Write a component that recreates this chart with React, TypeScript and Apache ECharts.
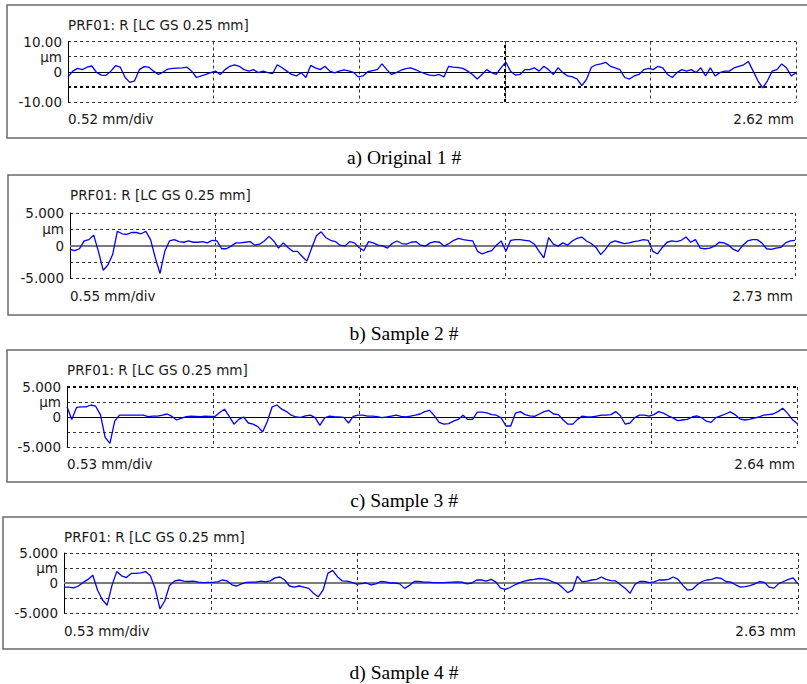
import { useEffect, useRef } from "react";
import * as echarts from "echarts";

// Profile values (µm), sampled evenly along each trace (5 divisions)
const profileA = [
  -1.7, 0.2, 1.1, 0.7, 1.5, 1.9, -0.2, -1.1, -1.2, 0.2,
  2.0, 1.5, -1.9, -3.5, -3.0, 0.7, 1.7, 1.5, 0.2, -0.9,
  -0.1, 0.9, 1.1, 1.2, 1.3, 1.5, 0.2, -1.9, -1.4, -0.9,
  -0.3, 0.2, -0.9, 0.7, 1.8, 2.3, 1.8, 0.7, 0.2, 0.7,
  -0.3, 0.2, -0.3, -0.6, 2.3, 1.3, 0.2, -0.9, -1.4, -0.3,
  -1.9, 2.1, 1.3, 0.7, 1.8, 0.2, -0.4, 0.2, 0.6, 0.3,
  -0.2, -1.7, -1.4, 0, 0.4, 0.7, 2.6, 0.7, -0.9, -0.3,
  0.5, 1.0, 1.3, 0.7, 0, -0.6, -1.1, -1.3, -0.9, -1.7,
  1.8, 1.5, 1.4, 1.1, 0.2, -0.9, -2.4, -0.9, 0.7, -0.3,
  -0.9, 1.3, 3.2, 0.2, -1.1, -0.9, 0.7, 0.7, 1.3, 0.2,
  1.8, 0.7, -0.9, 1.3, -0.3, -1.4, -1.7, -2.4, -4.6, -2.4,
  1.5, 2.3, 2.6, 3.1, 1.8, 1.3, 0.7, -1.9, -2.4, -1.4,
  -0.9, 0.7, 1.1, 0.7, 1.8, 1.3, -0.9, -1.9, -0.3, 0.7,
  0.2, 0.7, -0.3, 1.3, -1.4, 1.3, -1.4, -0.3, 0.2, 0.2,
  1.3, 1.8, 2.3, 3.4, 0.2, -3.0, -5.3, -3.0, 0.2, 0.7,
  2.6, 1.3, -1.4, -0.3,
];
const profileB = [
  -0.6, -0.8, -0.5, 0.7, 0.9, 1.6, -0.9, -3.8, -3.0, -1.4,
  2.2, 1.8, 1.7, 2.0, 2.0, 1.8, 2.2, 0.9, -1.9, -4.3,
  -0.9, 0.7, 0.9, 0.6, 0.5, 0.7, 0.5, 0.5, 0.6, 0.4,
  0.8, 0.7, -0.5, -0.5, -0.1, 0.4, 0.4, 0.5, 0.6, 0.05,
  0.2, 0.7, 1.4, 0.7, -0.4, 0.4, -0.3, -0.9, -0.9, -1.7,
  -2.4, -0.4, 1.5, 2.1, 1.2, 0.8, 0.6, 0.05, -0.1, 0.6,
  0.4, -0.3, -0.8, 0.6, 0.4, 0.05, -0.05, -0.4, 0.3, 0.7,
  0.3, 0.2, 0.5, 0.6, 0.05, -0.1, 0.4, 0.6, 0.5, -0.1,
  0.3, 0.8, 1.1, 0.9, 0.8, 0.7, -0.9, -1.3, -1.0, -0.8,
  0.05, 0.7, -0.9, 0.8, 0.9, 0.9, 0.8, 0.7, 0.2, -0.9,
  -1.9, 1.2, 0.2, -0.1, 0.4, 0.05, 0.7, 1.1, 1.3, 0.7,
  0.3, -0.3, -1.4, -0.6, 0.4, 0.7, 0.5, 0.3, 0.4, 0.6,
  0.7, 0.9, 0.8, -0.9, -1.3, -0.3, 0.5, 0.7, 0.6, 0.8,
  1.3, 0.5, 0.9, -0.4, -0.5, -0.4, -0.1, 0.5, 0.4, 0.05,
  -0.6, -0.9, 0.05, 0.7, 0.9, 0.9, 0.4, -0.5, -0.6, -0.4,
  -0.3, 0.4, 0.7, 0.8,
];
const profileC = [
  1.7, -0.4, 1.6, 1.7, 1.7, 2.0, 1.8, 0.4, -3.4, -4.4,
  -0.7, 0.3, 0.3, 0.3, 0.3, 0.3, 0.3, 0.05, 0.15, 0.15,
  0.3, 0.5, 0.1, -0.5, -0.2, 0.05, 0.15, 0.1, 0.05, 0.15,
  0.1, 0.1, 0.75, 1.3, 0.1, -1.2, -0.4, 0, -1.0, -1.2,
  -1.6, -2.5, -0.7, 1.7, 2.0, 1.3, 0.9, 0.3, 0, -0.05,
  0.2, 0.3, -0.1, -1.4, -0.15, 0.15, 0.05, 0, -0.05, -1.0,
  0.1, 0.3, 0.3, 0.15, 0.15, 0.05, -0.1, 0, 0.15, 0.3,
  0.1, 0, 0.15, 0.3, 0.5, 0.9, 1.1, 0.2, -0.9, -1.2,
  -1.1, -0.7, -0.4, 0.3, -0.4, -0.4, 0.8, 0.8, 0.7, 0.4,
  0.3, -0.15, -1.5, -1.5, 0.65, 0.9, 0.4, 0.2, 0.1, 0.5,
  0.9, 1.1, 0.5, 0.4, -0.5, -1.2, -1.2, -0.4, 0.15, 0,
  0, 0.15, 0.3, 0.3, 0.4, 0.9, 0.2, -1.2, -1.0, -0.1,
  0.3, 0.3, 0.15, 0.4, 0.9, 0.65, 0.2, -0.15, -0.6, -0.5,
  -0.4, 0, 0.2, -0.1, -0.7, -0.9, -0.1, 0.2, 0.5, 0.85,
  0.4, -0.3, -0.5, -0.4, -0.2, 0, 0.3, 0.4, 0.5, 0.9,
  1.45, 0.65, -0.4, -1.1,
];
const profileD = [
  -0.7, -0.7, -0.8, -0.5, 0.1, 0.6, 1.3, -1.2, -2.8, -3.7,
  -0.4, 1.9, 1.2, 0.9, 1.6, 1.6, 1.7, 1.9, 1.2, -0.9,
  -4.3, -3.0, -0.4, 0.3, 0.5, 0.3, 0.25, 0.3, 0.15, 0.05,
  0.1, 0.1, 0.2, 0.5, 0.35, -0.3, -0.5, -0.15, 0.1, 0.15,
  0.15, 0.3, 0.2, 0.35, 0.85, 1.0, 0.5, -0.5, -0.7, -0.5,
  -0.7, -0.9, -1.7, -2.3, -1.2, 1.6, 2.1, 1.05, 0.35, 0.3,
  0.1, -0.2, -0.1, 0, -0.3, -0.15, 0.25, 0.2, 0, 0,
  -0.15, -0.9, -0.4, 0.25, 0.25, 0.15, 0.15, 0.05, 0.05, 0.05,
  0.1, 0.15, 0.2, 0.15, -0.15, 0, 0.5, 0.5, 0.3, 0.6,
  0.2, -0.85, -1.05, -0.75, -0.3, 0.05, 0.3, 0.5, 0.6, 0.75,
  0.7, 0.5, 0.15, -0.15, -0.85, -1.6, -1.2, 1.15, 0.2, 0.3,
  0.5, 0.6, 1.0, 0.6, 0.4, 0.35, -0.3, -0.9, -1.7, -0.25,
  0.25, 0.25, 0.05, 0.2, 0.5, 0.5, 0.6, 1.0, 0.6, -0.4,
  -1.2, -1.05, -0.3, 0.25, 0.5, 0.6, 0.9, 0.75, 0.25, 0.15,
  -0.3, -0.7, -0.6, -0.45, -0.15, 0.25, 0.1, -0.7, -0.85, -0.1,
  0.25, 0.6, 0.85, -0.15,
];

const profiles = [profileA, profileB, profileC, profileD];
const titles = [
  "PRF01: R [LC GS 0.25 mm]",
  "PRF01: R [LC GS 0.25 mm]",
  "PRF01: R [LC GS 0.25 mm]",
  "PRF01: R [LC GS 0.25 mm]",
];
const scaleLimits = [10, 5, 5, 5];
const topLabels = ["10.00", "5.000", "5.000", "5.000"];
const bottomLabels = ["-10.00", "-5.000", "-5.000", "-5.000"];
const unitLabel = "µm";
const divisionLabels = ["0.52 mm/div", "0.55 mm/div", "0.53 mm/div", "0.53 mm/div"];
const lengthLabels = ["2.62 mm", "2.73 mm", "2.64 mm", "2.63 mm"];
const captions = ["a) Original 1 #", "b) Sample 2 #", "c) Sample 3 #", "d) Sample 4 #"];
const divisions = 5;
// grid lines that appear darker / heavier in each panel (value on y, division index on x)
const heavyYLines = [[-5], [], [5], []];
const heavyXLines = [[3], [], [], []];

const layout = [
  { box: { x: 7, y: 5, h: 133 }, plot: { left: 68, top: 41.5, width: 728, height: 60.5 }, titleY: 25, footY: 119, captionY: 157, zeroColor: "#000000", zeroWidth: 1 },
  { box: { x: 8, y: 175, h: 140 }, plot: { left: 70, top: 213, width: 725, height: 65 }, titleY: 195, footY: 296, captionY: 333, zeroColor: "#7a7a7a", zeroWidth: 2 },
  { box: { x: 7, y: 350, h: 132 }, plot: { left: 67, top: 387, width: 730, height: 60 }, titleY: 370, footY: 464, captionY: 500, zeroColor: "#000000", zeroWidth: 1 },
  { box: { x: 3, y: 517, h: 132 }, plot: { left: 64, top: 553, width: 734, height: 60 }, titleY: 537, footY: 631, captionY: 672, zeroColor: "#7a7a7a", zeroWidth: 2 },
];

const UI_FONT = "DejaVu Sans";
const UI_SIZE = 13.5;
const TEXT_COLOR = "#1a1a1a";
const GRID_COLOR = "#333333";

export default function App() {
  const ref = useRef<HTMLDivElement>(null);

  useEffect(() => {
    if (!ref.current) return;
    const chart = echarts.init(ref.current, null, { renderer: "svg" });

    const grids: any[] = [];
    const xAxes: any[] = [];
    const yAxes: any[] = [];
    const series: any[] = [];
    const graphics: any[] = [];

    profiles.forEach((prof, i) => {
      const L = layout[i];
      const lim = scaleLimits[i];
      grids.push({ left: L.plot.left, top: L.plot.top, width: L.plot.width, height: L.plot.height, containLabel: false });
      xAxes.push({
        type: "value",
        gridIndex: i,
        min: 0,
        max: divisions,
        interval: 1,
        axisLine: { show: false },
        axisTick: { show: false },
        axisLabel: { show: false },
        splitLine: { show: true, lineStyle: { type: [3, 3], color: GRID_COLOR, width: 1 } },
      });
      yAxes.push({
        type: "value",
        gridIndex: i,
        min: -lim,
        max: lim,
        interval: lim / 2,
        axisLine: { show: true, onZero: false, lineStyle: { color: "#000", width: 1 } },
        axisTick: { show: false },
        axisLabel: {
          margin: 6,
          color: TEXT_COLOR,
          fontFamily: UI_FONT,
          fontSize: UI_SIZE,
          formatter: (v: number) => {
            if (v === lim) return topLabels[i];
            if (v === lim / 2) return unitLabel;
            if (v === 0) return "0";
            if (v === -lim) return bottomLabels[i];
            return "";
          },
        },
        splitLine: { show: true, lineStyle: { type: [3, 3], color: GRID_COLOR, width: 1 } },
      });
      const heavy = [
        ...heavyYLines[i].map((v) => ({ yAxis: v })),
        ...heavyXLines[i].map((v) => ({ xAxis: v })),
      ];
      series.push({
        type: "line",
        xAxisIndex: i,
        yAxisIndex: i,
        data: prof.map((v, k) => [(k * divisions) / (prof.length - 1), v]),
        showSymbol: false,
        symbol: "none",
        lineStyle: { color: "#0000ff", width: 1.3 },
        z: 3,
        markLine: {
          silent: true,
          symbol: ["none", "none"],
          label: { show: false },
          data: [
            { yAxis: 0, lineStyle: { color: L.zeroColor, width: L.zeroWidth, type: "solid" } },
            ...heavy.map((d) => ({ ...d, lineStyle: { color: "#000", width: 2, type: [3, 3] } })),
          ],
          z: 2,
        },
      });

      graphics.push({
        type: "rect",
        shape: { x: L.box.x, y: L.box.y, width: 820, height: L.box.h },
        style: { fill: "none", stroke: "#6a6a6a", lineWidth: 1.5 },
        silent: true,
      });
      graphics.push({
        type: "text",
        x: L.plot.left,
        y: L.titleY,
        style: { text: titles[i], fontFamily: UI_FONT, fontSize: UI_SIZE, fill: TEXT_COLOR, align: "left", verticalAlign: "middle" },
      });
      graphics.push({
        type: "text",
        x: L.plot.left,
        y: L.footY,
        style: { text: divisionLabels[i], fontFamily: UI_FONT, fontSize: UI_SIZE, fill: TEXT_COLOR, align: "left", verticalAlign: "middle" },
      });
      graphics.push({
        type: "text",
        x: L.plot.left + L.plot.width - 2,
        y: L.footY,
        style: { text: lengthLabels[i], fontFamily: UI_FONT, fontSize: UI_SIZE, fill: TEXT_COLOR, align: "right", verticalAlign: "middle" },
      });
      graphics.push({
        type: "text",
        x: 404,
        y: L.captionY,
        style: { text: captions[i], fontFamily: "Liberation Serif", fontSize: 19.5, fill: "#000", align: "center", verticalAlign: "middle" },
      });
    });

    chart.setOption({
      animation: false,
      backgroundColor: "#ffffff",
      grid: grids,
      xAxis: xAxes,
      yAxis: yAxes,
      series,
      graphic: graphics,
    });

    return () => chart.dispose();
  }, []);

  return (
    <div
      ref={ref}
      style={{ position: "fixed", left: 0, top: 0, width: 807, height: 684, background: "#fff" }}
    />
  );
}
